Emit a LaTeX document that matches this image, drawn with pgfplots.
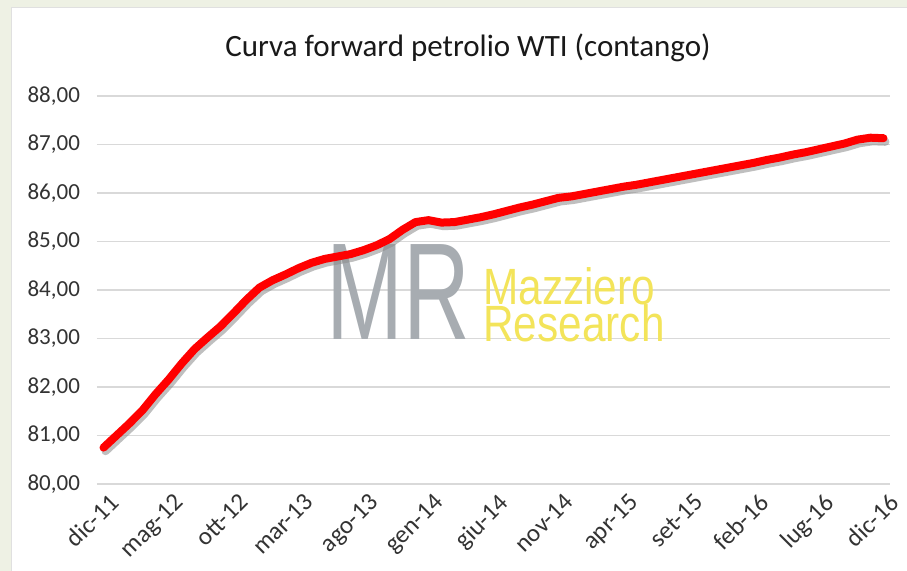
\documentclass[border=0pt]{standalone}
\usepackage{fontspec}
\setmainfont{Carlito}
\newfontfamily\logofont{Liberation Sans}
\usepackage{pgfplots}
\pgfplotsset{compat=1.18}
\definecolor{slidebg}{HTML}{EEF1E4}
\definecolor{gridgray}{HTML}{D9D9D9}
\definecolor{logogray}{HTML}{A7ACB1}
\definecolor{logoyellow}{HTML}{F3E45A}
\definecolor{wtired}{HTML}{FF0000}

\pgfplotstableread{
idx price
0 80.75
1 81.00
2 81.25
3 81.52
4 81.85
5 82.15
6 82.48
7 82.78
8 83.02
9 83.25
10 83.52
11 83.80
12 84.05
13 84.20
14 84.32
15 84.45
16 84.56
17 84.64
18 84.69
19 84.74
20 84.82
21 84.92
22 85.05
23 85.24
24 85.40
25 85.44
26 85.39
27 85.40
28 85.45
29 85.50
30 85.56
31 85.63
32 85.70
33 85.76
34 85.83
35 85.90
36 85.93
37 85.98
38 86.03
39 86.08
40 86.13
41 86.17
42 86.22
43 86.27
44 86.32
45 86.37
46 86.42
47 86.47
48 86.52
49 86.57
50 86.62
51 86.68
52 86.73
53 86.79
54 86.84
55 86.90
56 86.96
57 87.02
58 87.10
59 87.14
60 87.13
}\wticurve

\begin{document}
\begin{tikzpicture}
  % slide background and chart box (1px = 0.5pt)
  \fill[slidebg] (0,0) rectangle (453.5pt,285.5pt);
  \fill[black!12] (5.5pt,0) rectangle (453.5pt,282pt);
  \fill[white] (6pt,0) rectangle (453.5pt,281.5pt);
  \useasboundingbox (0,0) rectangle (453.5pt,285.5pt);

  \node[font=\fontsize{15.5}{18}\selectfont, text=black!90] at (234pt,261.5pt)
    {Curva forward petrolio WTI (contango)};

  \begin{axis}[
    at={(48.5pt,43.5pt)}, anchor=south west,
    scale only axis,
    width=396.5pt, height=194pt,
    xmin=-0.5, xmax=60.5,
    ymin=80, ymax=88,
    ytick={80,81,...,88},
    xtick={0,5,...,60},
    xticklabels={dic-11,mag-12,ott-12,mar-13,ago-13,gen-14,giu-14,nov-14,apr-15,set-15,feb-16,lug-16,dic-16},
    ymajorgrids=true,
    grid style={draw=gridgray, line width=0.7pt},
    axis line style={draw=none},
    major tick length=0pt,
    tick label style={font=\fontsize{11.5}{13}\selectfont, text=black!80},
    /pgf/number format/assume math mode=true,
    y tick label style={/pgf/number format/fixed, /pgf/number format/fixed zerofill,
                        /pgf/number format/precision=2, /pgf/number format/use comma,
                        anchor=east, xshift=-5pt},
    x tick label style={font=\fontsize{12.5}{14}\selectfont, rotate=45, anchor=north east,
                        xshift=2pt, yshift=-1pt},
    clip=false,
  ]
    % watermark
    \node[text=logogray, font=\logofont\fontsize{69}{70}\selectfont,
          anchor=base, xscale=0.67, inner sep=0pt] at (axis cs:22.65,82.97) {MR};
    \node[text=logoyellow, font=\logofont\fontsize{25.5}{26}\selectfont,
          anchor=base west, xscale=0.83, inner sep=0pt] at (axis cs:29.2,83.70) {Mazziero};
    \node[text=logoyellow, font=\logofont\fontsize{25.5}{26}\selectfont,
          anchor=base west, xscale=0.83, inner sep=0pt] at (axis cs:29.2,82.93) {Research};

    % shadow, then curve
    \addplot[black!45, opacity=0.55, line width=4pt, line join=round, line cap=round,
             xshift=1pt, yshift=-1.8pt, mark=none] table[x=idx, y=price] {\wticurve};
    \addplot[wtired, line width=4pt, line join=round, line cap=round, mark=none]
      table[x=idx, y=price] {\wticurve};
  \end{axis}
\end{tikzpicture}
\end{document}
